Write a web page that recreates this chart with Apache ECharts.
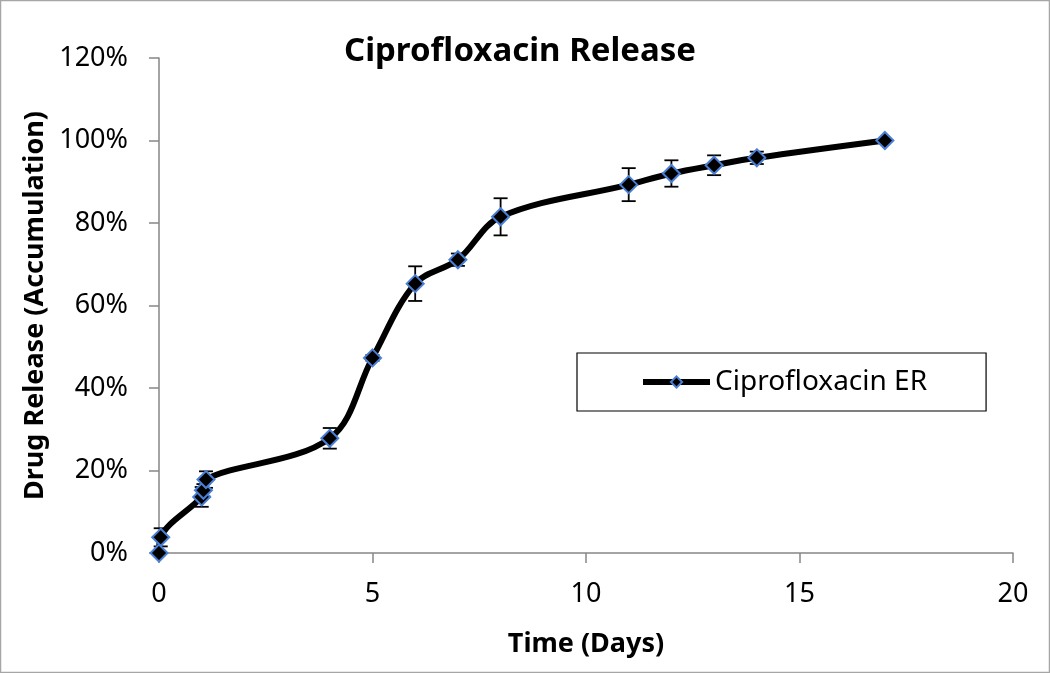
<!DOCTYPE html>
<html>
<head>
<meta charset="utf-8">
<script src="https://cdn.jsdelivr.net/npm/echarts@6/dist/echarts.min.js"></script>
<style>html,body{margin:0;padding:0;background:#fff}#c{width:1050px;height:673px}</style>
</head>
<body>
<div id="c"></div>
<script>
var days    = [0, 0.04, 1, 1.04, 1.1, 4, 5, 6, 7, 8, 11, 12, 13, 14, 17];
var release = [0, 3.8, 13.6, 15.2, 17.8, 27.8, 47.3, 65.3, 71.1, 81.5, 89.3, 92.0, 94.0, 95.8, 100];
var errors  = [0, 2.2, 2.4, 1.5, 2.0, 2.5, 0.7, 4.2, 1.5, 4.5, 4.0, 3.2, 2.4, 1.5, 0];
var yTicks = [0, 20, 40, 60, 80, 100, 120];
var xTicks = [0, 5, 10, 15, 20];
var seriesName = 'Ciprofloxacin ER';
var titleText = 'Ciprofloxacin Release';
var xTitle = 'Time (Days)';
var yTitle = 'Drug Release (Accumulation)';

var FONT = 'Noto Sans';
var lineData = days.map(function (d, i) { return [d, release[i]]; });
var errData = days.map(function (d, i) { return [d, release[i] - errors[i], release[i] + errors[i]]; })
  .filter(function (e, i) { return errors[i] > 0; });

var chart = echarts.init(document.getElementById('c'));
chart.setOption({
  animation: false,
  backgroundColor: '#fff',
  title: {
    text: titleText, left: 515, top: 30, textAlign: 'center',
    textStyle: { fontFamily: FONT, fontWeight: 'bold', fontSize: 33, color: '#000' }
  },
  graphic: [{
    type: 'rect', shape: { x: 0.5, y: 0.5, width: 1049, height: 672 },
    style: { fill: 'none', stroke: '#A6A6A6', lineWidth: 1.5 }, silent: true
  }],
  legend: {
    left: 577, top: 353,
    padding: [15, 59, 15, 63],
    borderColor: '#000', borderWidth: 1.2,
    itemWidth: 67, itemHeight: 14, itemGap: 0,
    textStyle: { fontFamily: FONT, fontSize: 28, color: '#000', padding: [0, 0, 0, 0] },
    lineStyle: { width: 6 },
    data: [seriesName]
  },
  grid: { left: 159, right: 37, top: 58, bottom: 120 },
  xAxis: {
    type: 'value', min: 0, max: 20, interval: 5,
    name: xTitle, nameLocation: 'middle', nameGap: 78,
    nameTextStyle: { fontFamily: FONT, fontWeight: 'bold', fontSize: 27, color: '#000' },
    axisLine: { onZero: false, lineStyle: { color: '#868686', width: 1.5 } },
    axisTick: { show: true, length: 10, lineStyle: { color: '#868686', width: 1.5 } },
    axisLabel: { fontFamily: FONT, fontSize: 27, color: '#000', margin: 28 },
    splitLine: { show: false }
  },
  yAxis: {
    type: 'value', min: 0, max: 120, interval: 20,
    name: yTitle, nameLocation: 'middle', nameGap: 106, nameRotate: 90,
    nameTextStyle: { fontFamily: FONT, fontWeight: 'bold', fontSize: 27, color: '#000' },
    axisLine: { show: true, lineStyle: { color: '#868686', width: 1.5 } },
    axisTick: { show: true, length: 10, lineStyle: { color: '#868686', width: 1.5 } },
    axisLabel: { fontFamily: FONT, fontSize: 27, color: '#000', margin: 31, formatter: '{value}%' },
    splitLine: { show: false }
  },
  series: [
    {
      type: 'custom', name: 'err', z: 1, silent: true,
      data: errData,
      renderItem: function (params, api) {
        var x = api.value(0);
        var lo = api.coord([x, api.value(1)]);
        var hi = api.coord([x, api.value(2)]);
        var hw = 7;
        var st = { stroke: '#000', lineWidth: 1.8, fill: 'none' };
        return { type: 'group', children: [
          { type: 'line', shape: { x1: lo[0], y1: lo[1], x2: hi[0], y2: hi[1] }, style: st },
          { type: 'line', shape: { x1: lo[0] - hw, y1: lo[1], x2: lo[0] + hw, y2: lo[1] }, style: st },
          { type: 'line', shape: { x1: hi[0] - hw, y1: hi[1], x2: hi[0] + hw, y2: hi[1] }, style: st }
        ]};
      }
    },
    {
      type: 'line', name: seriesName, z: 3,
      data: lineData, smooth: 0.35,
      lineStyle: { color: '#000', width: 6 },
      symbol: 'diamond', symbolSize: 17, showAllSymbol: true,
      itemStyle: { color: '#000', borderColor: '#4A7FD6', borderWidth: 2 }
    }
  ]
});
</script>
</body>
</html>
